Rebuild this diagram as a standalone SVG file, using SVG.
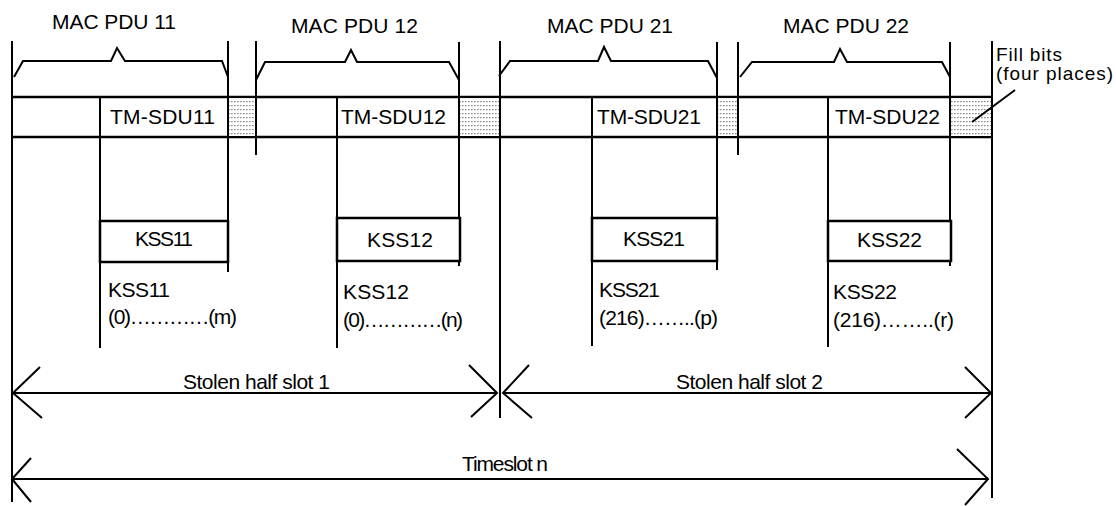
<svg xmlns="http://www.w3.org/2000/svg" width="1116" height="506" viewBox="0 0 1116 506">
<style>
.ln{stroke:#000;stroke-width:2;fill:none}
.bx{stroke:#000;stroke-width:2.5;fill:#fff}
.t{font-family:"Liberation Sans",Arial,sans-serif;font-size:21px;fill:#000}
.fb{font-size:19px}
.fill{fill:url(#dots);stroke:#000;stroke-width:2}
</style>
<defs>
<pattern id="dots" width="3" height="4" patternUnits="userSpaceOnUse">
<rect width="3" height="4" fill="#fff"/>
<rect x="0" y="1" width="1.6" height="1.2" fill="#8a8a8a"/>
</pattern>
</defs>
<rect width="1116" height="506" fill="#fff"/>

<g id="frame">
<line class="ln" x1="12" y1="41" x2="12" y2="502"/>
<line class="ln" x1="992" y1="41" x2="992" y2="498"/>
<line class="ln" x1="500" y1="41" x2="500" y2="418"/>
</g>

<g id="row">
<line class="ln" x1="12" y1="97" x2="992" y2="97" style="stroke-width:2.5"/>
<line class="ln" x1="12" y1="137" x2="992" y2="137" style="stroke-width:2.5"/>
</g>

<g id="fillbits">
<rect class="fill" x="228" y="97" width="28" height="40"/>
<rect class="fill" x="459" y="97" width="41" height="40"/>
<rect class="fill" x="717" y="97" width="21" height="40"/>
<rect class="fill" x="950" y="97" width="42" height="40"/>
<text class="t fb" x="996" y="61" textLength="66">Fill bits</text>
<text class="t fb" x="996" y="80" textLength="117">(four places)</text>
<line class="ln" x1="1015" y1="90" x2="972" y2="122"/>
</g>

<g id="pdu11">
<line class="ln" x1="228" y1="41" x2="228" y2="272"/>
<polyline class="ln" points="14,77 23,61 111,61 117,48 125,61 222,61 228,77"/>
<text class="t" x="52" y="29" textLength="124">MAC PDU 11</text>
</g>
<g id="pdu12">
<line class="ln" x1="256" y1="41" x2="256" y2="155"/>
<line class="ln" x1="459" y1="42" x2="459" y2="266"/>
<polyline class="ln" points="256,80 265,62 345,62 351,50 357,62 449,62 459,80"/>
<text class="t" x="291" y="33" textLength="127">MAC PDU 12</text>
</g>
<g id="pdu21">
<line class="ln" x1="717" y1="42" x2="717" y2="270"/>
<polyline class="ln" points="499,76 510,61 598,61 604,47 611,61 708,61 717,78"/>
<text class="t" x="547" y="33" textLength="126">MAC PDU 21</text>
</g>
<g id="pdu22">
<line class="ln" x1="738" y1="42" x2="738" y2="155"/>
<line class="ln" x1="950" y1="42" x2="950" y2="266"/>
<polyline class="ln" points="740,77 752,62 834,62 840,49 847,62 942,62 950,77"/>
<text class="t" x="783" y="33" textLength="126">MAC PDU 22</text>
</g>

<g id="sdu11">
<line class="ln" x1="100" y1="97" x2="100" y2="348"/>
<text class="t" x="110" y="124" textLength="105">TM-SDU11</text>
</g>
<g id="sdu12">
<line class="ln" x1="337" y1="97" x2="337" y2="348"/>
<text class="t" x="341" y="124" textLength="105">TM-SDU12</text>
</g>
<g id="sdu21">
<line class="ln" x1="592" y1="97" x2="592" y2="346"/>
<text class="t" x="597" y="124" textLength="104">TM-SDU21</text>
</g>
<g id="sdu22">
<line class="ln" x1="828" y1="97" x2="828" y2="347"/>
<text class="t" x="835" y="124" textLength="105">TM-SDU22</text>
</g>

<g id="kss11">
<rect class="bx" x="100" y="221" width="128" height="41"/>
<text class="t" x="135" y="246" textLength="58">KSS11</text>
<text class="t" x="108" y="297" textLength="62">KSS11</text>
<text class="t" x="108" y="324" textLength="129">(0)…………(m)</text>
</g>
<g id="kss12">
<rect class="bx" x="337" y="218" width="123" height="43"/>
<text class="t" x="367" y="247" textLength="66">KSS12</text>
<text class="t" x="343" y="299" textLength="66">KSS12</text>
<text class="t" x="343" y="327" textLength="120">(0)…………(n)</text>
</g>
<g id="kss21">
<rect class="bx" x="592" y="218" width="125" height="43"/>
<text class="t" x="623" y="246" textLength="62">KSS21</text>
<text class="t" x="599" y="297" textLength="61">KSS21</text>
<text class="t" x="599" y="325" textLength="119">(216)……..(p)</text>
</g>
<g id="kss22">
<rect class="bx" x="828" y="221" width="123" height="40"/>
<text class="t" x="857" y="247" textLength="65">KSS22</text>
<text class="t" x="833" y="299" textLength="64">KSS22</text>
<text class="t" x="833" y="327" textLength="121">(216)……..(r)</text>
</g>

<g id="connectors">
<line class="ln" x1="12" y1="393" x2="497" y2="393"/>
<polyline class="ln" points="40,367 13,393 42,418"/>
<polyline class="ln" points="469,365 497,393 471,417"/>
<text class="t" x="183" y="389" textLength="147">Stolen half slot 1</text>
<line class="ln" x1="503" y1="393" x2="992" y2="393"/>
<polyline class="ln" points="529,365 503,393 532,418"/>
<polyline class="ln" points="965,367 991,393 965,418"/>
<text class="t" x="676" y="389" textLength="147">Stolen half slot 2</text>
<line class="ln" x1="12" y1="479" x2="988" y2="479"/>
<polyline class="ln" points="31,458 12,479 31,502"/>
<polyline class="ln" points="957,449 988,479 965,505"/>
<text class="t" x="462" y="471" textLength="86">Timeslot n</text>
</g>
</svg>
